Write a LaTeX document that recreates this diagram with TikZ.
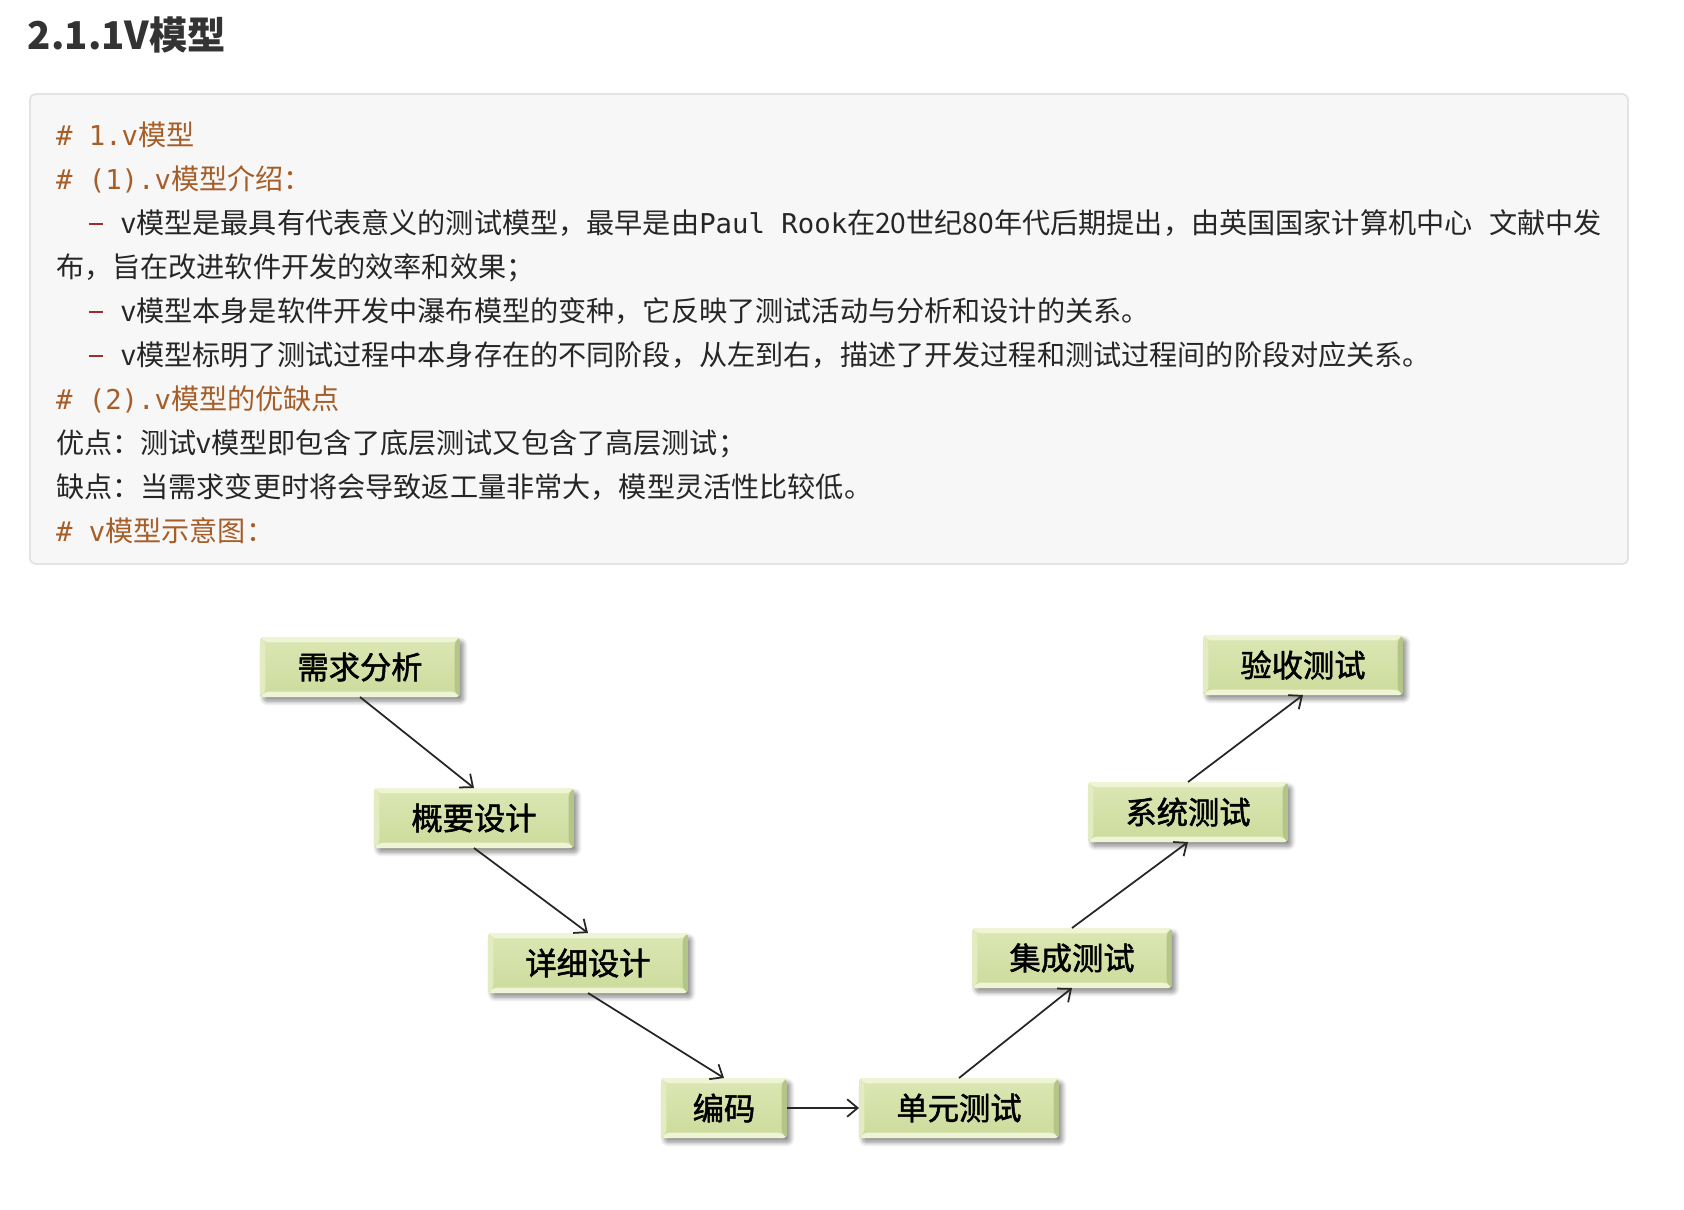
\documentclass[tikz,border=0pt]{standalone}
\usepackage{fontspec}
\setmainfont{Noto Sans CJK SC}
\newfontfamily\mono{DejaVu Sans Mono}[Scale=0.97]
\newfontfamily\stagefont{Noto Sans CJK SC}[FakeBold=1.6]
\usetikzlibrary{arrows.meta, positioning, shadows.blur}

\definecolor{codebg}{HTML}{F7F7F7}
\definecolor{codeframe}{HTML}{E2E2E7}
\definecolor{comment}{HTML}{A65E28}
\definecolor{bullet}{HTML}{A52A2A}
\definecolor{bodytext}{HTML}{262626}
\definecolor{titletext}{HTML}{333333}
\definecolor{stagetop}{HTML}{DCE7B4}
\definecolor{stagebot}{HTML}{CCDB9C}
\definecolor{bevlight}{HTML}{EEF4D4}
\definecolor{bevside}{HTML}{E3ECC0}
\definecolor{bevdark}{HTML}{B4C588}

\newcommand{\listdash}{{\mono\phantom{xx}\textcolor{bullet}{\rule[0.28em]{0.5em}{0.1em}}\hspace{0.1em}\phantom{x}}}
\newcommand{\pbb}{path picture bounding box}

\begin{document}
\begin{tikzpicture}[
  x=0.02cm, y=0.02cm,
  every node/.style={inner sep=0pt, outer sep=0pt},
  heading/.style={anchor=base west, text=titletext, font=\bfseries\fontsize{21.8}{26}\selectfont},
  textline/.style={anchor=base west, text=bodytext, font=\fontsize{16.02}{19}\selectfont},
  comment/.style={textline, text=comment},
  stage/.style={rectangle, rounded corners=2pt, minimum width=4cm, minimum height=1.2cm,
    top color=stagetop, bottom color=stagebot,
    font=\stagefont\fontsize{17.8}{20}\selectfont, text=black,
    blur shadow={shadow xshift=2pt, shadow yshift=-2.5pt, shadow blur steps=8, shadow blur radius=2.5pt, shadow opacity=45},
    path picture={
      \fill[bevlight] (\pbb.north west) -- (\pbb.north east) -- ([shift={(-3pt,-3pt)}]\pbb.north east) -- ([shift={(3pt,-3pt)}]\pbb.north west) -- cycle;
      \fill[bevside] (\pbb.north west) -- (\pbb.south west) -- ([shift={(3pt,3pt)}]\pbb.south west) -- ([shift={(3pt,-3pt)}]\pbb.north west) -- cycle;
      \fill[bevlight] (\pbb.south west) -- (\pbb.south east) -- ([shift={(-3pt,3pt)}]\pbb.south east) -- ([shift={(3pt,3pt)}]\pbb.south west) -- cycle;
      \fill[bevdark] (\pbb.north east) -- (\pbb.south east) -- ([shift={(-3pt,3pt)}]\pbb.south east) -- ([shift={(-3pt,-3pt)}]\pbb.north east) -- cycle;
    }},
  arrow/.style={-{Straight Barb[length=6pt, width=10pt]}, line width=1pt, black!85}
]
\useasboundingbox (0,0) rectangle (1684,-1210);

% Title
\node[heading] (title) at (28,-50) {2.1.1V模型};

% Code block
\fill[codebg, draw=codeframe, line width=1pt, rounded corners=3pt] (30,-94) rectangle (1628,-564);

\node[comment] (line1) at (56,-145) {\mono\# 1.v\rmfamily 模型};
\node[comment] (line2) at (56,-189) {\mono\# (1).v\rmfamily 模型介绍：};
\node[textline] (line3) at (56,-233) {\listdash v模型是最具有代表意义的测试模型，最早是由{\mono Paul Rook}在20世纪80年代后期提出，由英国国家计算机中心{\mono\ }文献中发};
\node[textline] (line4) at (56,-277) {布，旨在改进软件开发的效率和效果；};
\node[textline] (line5) at (56,-321) {\listdash v模型本身是软件开发中瀑布模型的变种，它反映了测试活动与分析和设计的关系。};
\node[textline] (line6) at (56,-365) {\listdash v模型标明了测试过程中本身存在的不同阶段，从左到右，描述了开发过程和测试过程间的阶段对应关系。};
\node[comment] (line7) at (56,-409) {\mono\# (2).v\rmfamily 模型的优缺点};
\node[textline] (line8) at (56,-453) {优点：测试v模型即包含了底层测试又包含了高层测试；};
\node[textline] (line9) at (56,-497) {缺点：当需求变更时将会导致返工量非常大，模型灵活性比较低。};
\node[comment] (line10) at (56,-541) {\mono\# v\rmfamily 模型示意图：};

% V model, left side
\node[stage] (req) at (360,-667) {需求分析};
\node[stage] (hld) at (474,-818) {概要设计};
\node[stage] (lld) at (588,-963) {详细设计};
\node[stage, minimum width=2.52cm] (coding) at (724,-1108) {编码};

% V model, right side
\node[stage] (unit) at (959,-1108) {单元测试};
\node[stage] (integ) at (1072,-958) {集成测试};
\node[stage] (system) at (1188,-812) {系统测试};
\node[stage] (accept) at (1303,-665) {验收测试};

% Arrows
\draw[arrow] (req.south) -- (hld.north);
\draw[arrow] (hld.south) -- (lld.north);
\draw[arrow] (lld.south) -- (coding.north);
\draw[arrow] (coding.east) -- (unit.west);
\draw[arrow] (unit.north) -- (integ.south);
\draw[arrow] (integ.north) -- (system.south);
\draw[arrow] (system.north) -- (accept.south);

\end{tikzpicture}
\end{document}
